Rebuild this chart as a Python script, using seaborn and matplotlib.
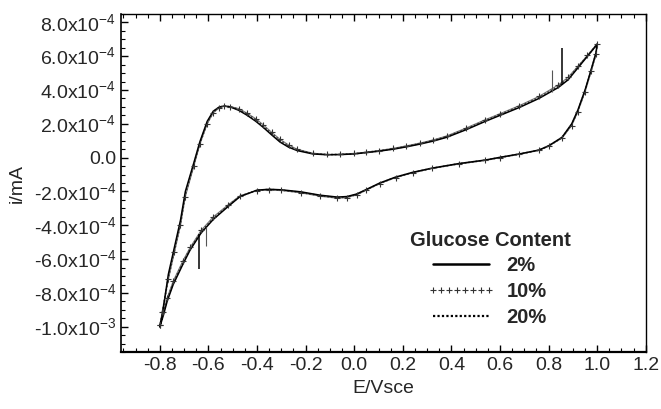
import numpy as np
import pandas as pd
import matplotlib
matplotlib.use("Agg")
import matplotlib.pyplot as plt
import seaborn as sns
from matplotlib.lines import Line2D
from matplotlib.ticker import MultipleLocator, FixedLocator

# ---------------- data (current in units of 1e-4 mA) ----------------
E = [-0.800, -0.790, -0.765, -0.740, -0.715, -0.695, -0.660, -0.635, -0.605, -0.580,
     -0.555, -0.535, -0.510, -0.475, -0.440, -0.405, -0.375, -0.340, -0.305, -0.270,
     -0.235, -0.170, -0.110, -0.060, 0.000, 0.050, 0.100, 0.160, 0.215, 0.270,
     0.325, 0.380, 0.460, 0.540, 0.600, 0.680, 0.760, 0.840, 0.880, 0.920,
     0.960, 1.000,
     0.995, 0.975, 0.950, 0.920, 0.895, 0.855, 0.800, 0.760, 0.680, 0.600,
     0.540, 0.430, 0.320, 0.240, 0.170, 0.105, 0.050, 0.010, -0.030, -0.070,
     -0.140, -0.220, -0.300, -0.350, -0.400, -0.470, -0.520, -0.580, -0.630, -0.675,
     -0.705, -0.745, -0.770, -0.785, -0.800]

i_2 = [-10.0, -9.3, -6.9, -5.3, -3.7, -2.0, -0.3, 0.95, 2.15, 2.75,
       3.0, 3.05, 3.0, 2.8, 2.5, 2.15, 1.8, 1.35, 0.92, 0.62,
       0.42, 0.22, 0.17, 0.18, 0.22, 0.30, 0.38, 0.50, 0.64, 0.80,
       0.98, 1.20, 1.65, 2.15, 2.50, 2.97, 3.50, 4.15, 4.60, 5.30,
       6.00, 6.70,
       6.20, 5.20, 4.00, 2.80, 2.00, 1.20, 0.70, 0.45, 0.22, 0.02,
       -0.14, -0.35, -0.62, -0.87, -1.15, -1.50, -1.88, -2.15, -2.30, -2.33,
       -2.22, -2.02, -1.90, -1.87, -1.92, -2.30, -2.90, -3.65, -4.45, -5.45,
       -6.30, -7.50, -8.50, -9.30, -10.0]

i_10 = [-9.9, -9.1, -7.2, -5.6, -4.0, -2.3, -0.5, 0.80, 2.00, 2.65,
        2.95, 3.05, 3.02, 2.90, 2.62, 2.30, 1.95, 1.50, 1.08, 0.75,
        0.50, 0.26, 0.19, 0.20, 0.25, 0.33, 0.42, 0.55, 0.70, 0.86,
        1.05, 1.28, 1.75, 2.25, 2.60, 3.08, 3.62, 4.30, 4.75, 5.40,
        6.05, 6.75,
        6.10, 5.10, 3.90, 2.70, 1.90, 1.15, 0.68, 0.43, 0.20, 0.00,
        -0.16, -0.38, -0.64, -0.90, -1.18, -1.53, -1.92, -2.20, -2.36, -2.40,
        -2.28, -2.08, -1.94, -1.90, -1.95, -2.25, -2.80, -3.50, -4.30, -5.30,
        -6.10, -7.30, -8.30, -9.10, -9.90]

i_20 = [-10.0, -9.2, -7.1, -5.5, -3.9, -2.2, -0.4, 0.85, 2.05, 2.70,
        2.98, 3.05, 3.01, 2.86, 2.58, 2.24, 1.88, 1.44, 1.02, 0.70,
        0.47, 0.24, 0.18, 0.19, 0.23, 0.31, 0.40, 0.52, 0.67, 0.83,
        1.02, 1.24, 1.70, 2.20, 2.55, 3.03, 3.56, 4.22, 4.68, 5.35,
        6.02, 6.72,
        6.15, 5.15, 3.95, 2.75, 1.95, 1.18, 0.69, 0.44, 0.21, 0.01,
        -0.15, -0.36, -0.63, -0.88, -1.16, -1.52, -1.90, -2.18, -2.33, -2.37,
        -2.25, -2.05, -1.92, -1.88, -1.93, -2.28, -2.85, -3.58, -4.38, -5.38,
        -6.20, -7.40, -8.40, -9.20, -9.95]

# spikes (E position, from, to) in 1e-4 mA
spike_E_2 = [0.855, -0.640]
spike_from_2 = [4.3, -4.5]
spike_to_2 = [6.5, -6.6]
spike_E_10 = [0.815, -0.612]
spike_from_10 = [3.9, -4.1]
spike_to_10 = [5.2, -5.2]

x_ticks = [-0.8, -0.6, -0.4, -0.2, 0.0, 0.2, 0.4, 0.6, 0.8, 1.0, 1.2]
y_ticks = [8.0e-4, 6.0e-4, 4.0e-4, 2.0e-4, 0.0, -2.0e-4, -4.0e-4, -6.0e-4, -8.0e-4, -1.0e-3]
y_labels = [r"8.0x10$^{-4}$", r"6.0x10$^{-4}$", r"4.0x10$^{-4}$", r"2.0x10$^{-4}$",
            "0.0",
            r"-2.0x10$^{-4}$", r"-4.0x10$^{-4}$", r"-6.0x10$^{-4}$", r"-8.0x10$^{-4}$",
            r"-1.0x10$^{-3}$"]
series_labels = ["2%", "10%", "20%"]

# ---------------- plotting ----------------
sns.set_theme(style="white")
plt.rcParams["font.family"] = ["Liberation Sans", "DejaVu Sans"]
plt.rcParams["mathtext.fontset"] = "custom"
plt.rcParams["mathtext.rm"] = "Liberation Sans"
plt.rcParams["axes.unicode_minus"] = False

fig = plt.figure(figsize=(6.61, 4.09), dpi=100)
ax = fig.add_axes([0.183, 0.139, 0.794, 0.827])

scale = 1e-4
df2 = pd.DataFrame({"E": E, "i": np.array(i_2) * scale})
df10 = pd.DataFrame({"E": E, "i": np.array(i_10) * scale})
df20 = pd.DataFrame({"E": E, "i": np.array(i_20) * scale})

sns.lineplot(data=df10, x="E", y="i", sort=False, estimator=None, ax=ax,
             color="#777777", lw=0.8)
sns.lineplot(data=df20, x="E", y="i", sort=False, estimator=None, ax=ax,
             color="#444444", lw=1.2, linestyle=(0, (1, 1.2)))
sns.lineplot(data=df2, x="E", y="i", sort=False, estimator=None, ax=ax,
             color="black", lw=1.1)
sns.scatterplot(data=df10, x="E", y="i", ax=ax, marker="+", s=20, linewidth=0.8,
                color="#333333", zorder=4)

ax.vlines(spike_E_2, np.array(spike_from_2) * scale, np.array(spike_to_2) * scale,
          color="black", lw=1.1)
ax.vlines(spike_E_10, np.array(spike_from_10) * scale, np.array(spike_to_10) * scale,
          color="#555555", lw=0.8)

ax.set_xlim(-0.96, 1.2)
ax.set_ylim(-1.15e-3, 8.5e-4)
ax.xaxis.set_major_locator(FixedLocator(x_ticks))
ax.set_xticklabels([f"{v:.1f}" for v in x_ticks])
ax.xaxis.set_minor_locator(MultipleLocator(0.05))
ax.yaxis.set_major_locator(FixedLocator(y_ticks))
ax.set_yticklabels(y_labels)
ax.yaxis.set_minor_locator(MultipleLocator(0.5e-4))

ax.tick_params(which="both", direction="in", top=True, right=False, bottom=True, left=True,
               color="black", labelsize=14)
ax.tick_params(which="major", length=5, width=1)
ax.tick_params(which="minor", length=3, width=0.8)
for s in ax.spines.values():
    s.set_color("black")
    s.set_linewidth(1.0)
ax.spines["bottom"].set_linewidth(1.6)
ax.spines["left"].set_linewidth(1.2)

ax.set_xlabel("E/Vsce", fontsize=14, labelpad=4)
ax.set_ylabel("i/mA", fontsize=14, labelpad=6)

handles = [
    Line2D([], [], color="black", lw=1.8),
    Line2D([], [], color="#333333", lw=0, marker="+", markersize=5, markeredgewidth=0.8),
    Line2D([], [], color="black", lw=1.6, linestyle=(0, (1, 1.0))),
]
leg = ax.legend(handles, series_labels, loc="upper left", bbox_to_anchor=(0.583, 0.285),
                frameon=False, numpoints=8, handlelength=3.4, handletextpad=0.55,
                labelspacing=0.35, borderpad=0, borderaxespad=0,
                prop={"weight": "bold", "size": 14.5})
ax.text(0.551, 0.331, "Glucose Content", transform=ax.transAxes, ha="left", va="center",
        fontsize=14.5, fontweight="bold")

fig.savefig("out.png", dpi=100)
